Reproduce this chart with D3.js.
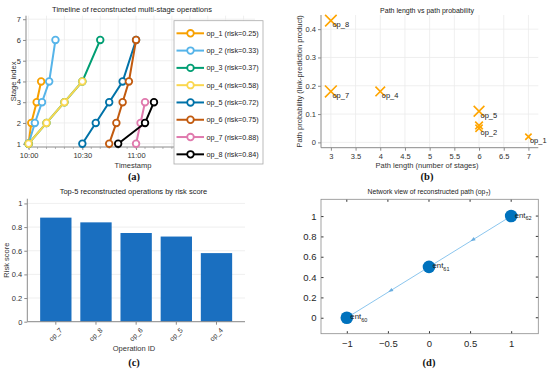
<!DOCTYPE html>
<html><head><meta charset="utf-8">
<script src="https://cdn.jsdelivr.net/npm/d3@7"></script>
<style>
body{margin:0;background:#fff;}
svg{display:block;}
svg text{font-family:"Liberation Sans",Arial,sans-serif !important;}
svg text.cap{font-family:"Liberation Serif","Times New Roman",serif !important;}
</style></head>
<body>
<svg id="c" width="550" height="372"></svg>
<script>
// ---------- DATA ----------
const opNames = ["op_1","op_2","op_3","op_4","op_5","op_6","op_7","op_8"];
const opRisk = [0.25,0.33,0.37,0.58,0.72,0.75,0.88,0.84];
const opColors = ["#F7A000","#56B4E9","#009E73","#FAD74F","#0072A8","#C25A0E","#E07AAE","#000000"];
// minutes after 10:00 and stage indices per operation
const opMinutes = [
  [0,1.5,4.5,7],
  [0,3.5,7.5,11.5,15],
  [0,10,20,30,40],
  [0,10,20,30],
  [30,37.5,45,52.5,60],
  [45,49,52.5,56,60],
  [60,62.5,65],
  [50,65,70]
];
const opStages = [
  [1,2,3,4],
  [1,2,3,4,6],
  [1,2,3,4,6],
  [1,2,3,4],
  [1,2,3,4,6],
  [1,2,3,4,6],
  [1,2,3],
  [1,2,3]
];
const timeTickLabels = ["10:00","10:30","11:00"];

const pathNames = ["op_8","op_7","op_4","op_5","op_3","op_2","op_1"];
const pathLabels = ["op_8","op_7","op_4","op_5","","op_2","op_1"];
const pathLength = [3,3,4,6,6,6,7];
const pathProb = [0.43,0.18,0.18,0.11,0.06,0.05,0.02];
const pathRisk = [0.84,0.88,0.58,0.72,0.37,0.33,0.25];

const topOps = ["op_7","op_8","op_6","op_5","op_4"];
const topRisk = [0.88,0.84,0.75,0.72,0.58];

const netNodes = ["60","61","62"];
const netX = [-1,0,1];
const netY = [0,0.5,1];
const netEdges = [[2,1],[1,0]];

// ---------- HELPERS ----------
const svg = d3.select("#c");
const gridCol = "#ebebeb", axCol = "#8a8a8a", txtCol = "#333";
function styleAxis(g){
  g.attr("font-family",null).attr("font-size",null);
  g.selectAll("path.domain").remove();
  g.selectAll(".tick line").attr("stroke", axCol);
  g.selectAll(".tick text").attr("fill", txtCol).style("font-size","7.5px");
}
function caption(x,y,t){
  svg.append("text").attr("class","cap").attr("x",x).attr("y",y).attr("text-anchor","middle")
    .style("font-weight","bold").style("font-size","10.5px").attr("fill","#111").text(t);
}
function ttl(x,y,t,fs){
  return svg.append("text").attr("x",x).attr("y",y).attr("text-anchor","middle")
    .style("font-size",(fs||7.5)+"px").attr("fill","#222").text(t);
}

// ---------- PANEL A ----------
(function(){
  const L=26,R=255,T=15.7,B=147;
  const t0 = new Date(2024,0,1,10,0);
  const tm = m => new Date(t0.getTime()+m*60000);
  const x = d3.scaleTime().domain([tm(-1.45),tm(126.4)]).range([L,R]);
  const y = d3.scaleLinear().domain([0.84,7.17]).range([B,T]);
  const g = svg.append("g");
  const gx = d3.range(0,130,10).map(tm);
  g.selectAll(".gx").data(gx).join("line").attr("x1",d=>x(d)).attr("x2",d=>x(d))
    .attr("y1",T).attr("y2",B).attr("stroke",gridCol).attr("stroke-width",0.8);
  g.selectAll(".gy").data(d3.range(1,8)).join("line").attr("x1",L).attr("x2",R)
    .attr("y1",d=>y(d)).attr("y2",d=>y(d)).attr("stroke",gridCol).attr("stroke-width",0.8);
  const majors = [0,30,60].map(tm);
  const ax = g.append("g").attr("transform",`translate(0,${B})`)
    .call(d3.axisBottom(x).tickValues(majors).tickFormat((d,i)=>timeTickLabels[i]).tickSize(3).tickPadding(3));
  styleAxis(ax);
  g.append("g").attr("transform",`translate(0,${B})`).selectAll("line")
    .data(d3.range(0,130,5).map(tm)).join("line")
    .attr("x1",d=>x(d)).attr("x2",d=>x(d)).attr("y1",0).attr("y2",2).attr("stroke",axCol).attr("stroke-width",0.6);
  const ay = g.append("g").attr("transform",`translate(${L},0)`)
    .call(d3.axisLeft(y).tickValues(d3.range(1,8)).tickFormat(d3.format("d")).tickSize(3).tickPadding(2));
  styleAxis(ay);
  g.append("line").attr("x1",L).attr("x2",R).attr("y1",B).attr("y2",B).attr("stroke",axCol);
  g.append("line").attr("x1",L).attr("x2",L).attr("y1",T).attr("y2",B).attr("stroke",axCol);
  const line = d3.line().x(d=>x(tm(d[0]))).y(d=>y(d[1]));
  opNames.forEach((n,i)=>{
    const pts = opMinutes[i].map((m,j)=>[m,opStages[i][j]]);
    g.append("path").attr("d",line(pts)).attr("fill","none").attr("stroke",opColors[i]).attr("stroke-width",2);
    g.selectAll(null).data(pts).join("circle").attr("cx",d=>x(tm(d[0]))).attr("cy",d=>y(d[1]))
      .attr("r",3.3).attr("fill","#fff").attr("stroke",opColors[i]).attr("stroke-width",1.8);
  });
  ttl(132,11.5,"Timeline of reconstructed multi-stage operations");
  svg.append("text").attr("transform",`translate(15.5,${(T+B)/2}) rotate(-90)`).attr("text-anchor","middle")
    .style("font-size","7.5px").attr("fill",txtCol).text("Stage index");
  svg.append("text").attr("x",133).attr("y",168).attr("text-anchor","middle")
    .style("font-size","7.5px").attr("fill",txtCol).text("Timestamp");
  const lg = svg.append("g");
  lg.append("rect").attr("x",174).attr("y",20.7).attr("width",89).attr("height",143.3)
    .attr("fill","#fff").attr("stroke","#aaa").attr("stroke-width",0.8);
  opNames.forEach((n,i)=>{
    const yy = 33.3 + i*17.29;
    lg.append("line").attr("x1",176.5).attr("x2",204).attr("y1",yy).attr("y2",yy).attr("stroke",opColors[i]).attr("stroke-width",2);
    lg.append("circle").attr("cx",190.5).attr("cy",yy).attr("r",3.3).attr("fill","#fff").attr("stroke",opColors[i]).attr("stroke-width",1.8);
    lg.append("text").attr("x",206.5).attr("y",yy+2.6).style("font-size","7.2px").attr("fill","#222")
      .text(`${n} (risk=${opRisk[i].toFixed(2)})`);
  });
  caption(134,180,"(a)");
})();

// ---------- PANEL B ----------
(function(){
  const L=321,R=538.3,T=15,B=147.7;
  const x = d3.scaleLinear().domain([2.8,7.2]).range([L,R]);
  const y = d3.scaleLinear().domain([-0.0188,0.45]).range([B,T]);
  const g = svg.append("g");
  const xt = d3.range(3,7.01,0.5), yt = d3.range(0,0.41,0.1);
  g.selectAll(".gx").data(xt).join("line").attr("x1",d=>x(d)).attr("x2",d=>x(d)).attr("y1",T).attr("y2",B).attr("stroke",gridCol).attr("stroke-width",0.8);
  g.selectAll(".gy").data(yt).join("line").attr("x1",L).attr("x2",R).attr("y1",d=>y(d)).attr("y2",d=>y(d)).attr("stroke",gridCol).attr("stroke-width",0.8);
  const ax = g.append("g").attr("transform",`translate(0,${B})`).call(d3.axisBottom(x).tickValues(xt).tickFormat(d3.format("~g")).tickSize(3).tickPadding(2.5));
  styleAxis(ax);
  const ay = g.append("g").attr("transform",`translate(${L},0)`).call(d3.axisLeft(y).tickValues(yt).tickFormat(d3.format(".1~f")).tickSize(3).tickPadding(2));
  styleAxis(ay);
  g.append("line").attr("x1",L).attr("x2",R).attr("y1",B).attr("y2",B).attr("stroke",axCol);
  g.append("line").attr("x1",L).attr("x2",L).attr("y1",T).attr("y2",B).attr("stroke",axCol);
  pathNames.forEach((n,i)=>{
    const cx=x(pathLength[i]), cy=y(pathProb[i]), h=6.3*Math.sqrt(pathRisk[i]);
    g.append("path").attr("d",`M${cx-h},${cy-h}L${cx+h},${cy+h}M${cx-h},${cy+h}L${cx+h},${cy-h}`)
      .attr("stroke","#FFA500").attr("stroke-width",1.6).attr("fill","none");
    if(pathLabels[i]) g.append("text").attr("x",cx+1.5).attr("y",cy+6.5).style("font-size","7.5px").attr("fill","#222").text(pathLabels[i]);
  });
  ttl(427,12.5,"Path length vs path probability",7);
  svg.append("text").attr("transform",`translate(302,${(T+B)/2}) rotate(-90)`).attr("text-anchor","middle")
    .style("font-size","7.5px").attr("fill",txtCol).text("Path probability (link-prediction product)");
  svg.append("text").attr("x",427).attr("y",168).attr("text-anchor","middle")
    .style("font-size","7.5px").attr("fill",txtCol).text("Path length (number of stages)");
  caption(427,180,"(b)");
})();

// ---------- PANEL C ----------
(function(){
  const L=27.3,R=245,T=198.7,B=321.7;
  const x = d3.scaleBand().domain(topOps).range([L,R]).paddingInner(0.22).paddingOuter(0.32);
  const y = d3.scaleLinear().domain([0,1.04]).range([B,T]);
  const g = svg.append("g");
  const yt = d3.range(0,1.01,0.2);
  g.selectAll(".gy").data(yt).join("line").attr("x1",L).attr("x2",R).attr("y1",d=>y(d)).attr("y2",d=>y(d)).attr("stroke",gridCol).attr("stroke-width",0.8);
  g.selectAll("rect").data(topOps).join("rect").attr("x",d=>x(d)).attr("width",x.bandwidth())
    .attr("y",(d,i)=>y(topRisk[i])).attr("height",(d,i)=>B-y(topRisk[i])).attr("fill","#1A6FC0");
  const ay = g.append("g").attr("transform",`translate(${L},0)`).call(d3.axisLeft(y).tickValues(yt).tickFormat(d3.format(".1~f")).tickSize(3).tickPadding(2));
  styleAxis(ay);
  const ax = g.append("g").attr("transform",`translate(0,${B})`).call(d3.axisBottom(x).tickSize(3).tickPadding(2));
  styleAxis(ax);
  ax.selectAll(".tick text").attr("text-anchor","end").attr("dy","0.3em")
    .attr("transform","translate(2,4) rotate(-45)").style("font-size","7px");
  g.append("line").attr("x1",L).attr("x2",R).attr("y1",B).attr("y2",B).attr("stroke",axCol);
  g.append("line").attr("x1",L).attr("x2",L).attr("y1",T).attr("y2",B).attr("stroke",axCol);
  ttl(133.5,193.5,"Top-5 reconstructed operations by risk score");
  svg.append("text").attr("transform",`translate(9,${(T+B)/2}) rotate(-90)`).attr("text-anchor","middle")
    .style("font-size","7.5px").attr("fill",txtCol).text("Risk score");
  svg.append("text").attr("x",134).attr("y",351).attr("text-anchor","middle")
    .style("font-size","7.5px").attr("fill",txtCol).text("Operation ID");
  caption(134,366,"(c)");
})();

// ---------- PANEL D ----------
(function(){
  const L=321,R=538.3,T=199.3,B=333.7;
  const x = d3.scaleLinear().domain([-1.314,1.33]).range([L,R]);
  const y = d3.scaleLinear().domain([-0.157,1.165]).range([B,T]);
  const g = svg.append("g");
  const xt=[-1,-0.5,0,0.5,1], yt=d3.range(0,1.01,0.2);
  const fmt = d => d3.format(".1~f")(d).replace("-","\u2212");
  const ax = g.append("g").attr("transform",`translate(0,${B})`).call(d3.axisBottom(x).tickValues(xt).tickFormat(fmt).tickSizeInner(-2.5).tickSizeOuter(0).tickPadding(6.5));
  const ay = g.append("g").attr("transform",`translate(${L},0)`).call(d3.axisLeft(y).tickValues(yt).tickFormat(fmt).tickSizeInner(-2.5).tickSizeOuter(0).tickPadding(4.5));
  [ax,ay].forEach(a=>{a.attr("font-family",null).attr("font-size",null);a.selectAll("path.domain").remove();a.selectAll(".tick line").attr("stroke","#333");
    a.selectAll(".tick text").attr("fill","#262626").style("font-size","9.5px");});
  g.selectAll(".tt").data(xt).join("line").attr("x1",d=>x(d)).attr("x2",d=>x(d)).attr("y1",T).attr("y2",T+2.5).attr("stroke","#333");
  g.selectAll(".rt").data(yt).join("line").attr("x1",R).attr("x2",R-2.5).attr("y1",d=>y(d)).attr("y2",d=>y(d)).attr("stroke","#333");
  g.append("rect").attr("x",L).attr("y",T).attr("width",R-L).attr("height",B-T).attr("fill","none").attr("stroke","#8c8c8c").attr("stroke-width",0.8);
  netEdges.forEach(([s,t])=>{
    const x1=x(netX[s]),y1=y(netY[s]),x2=x(netX[t]),y2=y(netY[t]);
    g.append("line").attr("x1",x1).attr("y1",y1).attr("x2",x2).attr("y2",y2).attr("stroke","#8cc6ee").attr("stroke-width",1);
    const mx=x1+(x2-x1)*0.47, my=y1+(y2-y1)*0.47;
    const ang=Math.atan2(y2-y1,x2-x1)*180/Math.PI;
    g.append("path").attr("d","M2.5,0L-2.5,-1.8L-2.5,1.8Z").attr("fill","#6aaee0")
      .attr("transform",`translate(${mx},${my}) rotate(${ang})`);
  });
  netNodes.forEach((n,i)=>{
    const cx=x(netX[i]), cy=y(netY[i]);
    g.append("circle").attr("cx",cx).attr("cy",cy).attr("r",6.3).attr("fill","#0072BD");
    const t=g.append("text").attr("x",cx+3.5).attr("y",cy+1.5).style("font-size","7.8px").attr("fill","#222");
    t.append("tspan").text("ent");
    t.append("tspan").attr("dy",2.5).style("font-size","5.5px").text(n);
  });
  const tt = svg.append("text").attr("x",429).attr("y",194).attr("text-anchor","middle").style("font-size","6.8px").attr("fill","#222");
  tt.append("tspan").text("Network view of reconstructed path (op");
  tt.append("tspan").attr("dy",1.8).style("font-size","5px").text("7");
  tt.append("tspan").attr("dy",-1.8).text(")");
  caption(429,366,"(d)");
})();
</script>
</body></html>
